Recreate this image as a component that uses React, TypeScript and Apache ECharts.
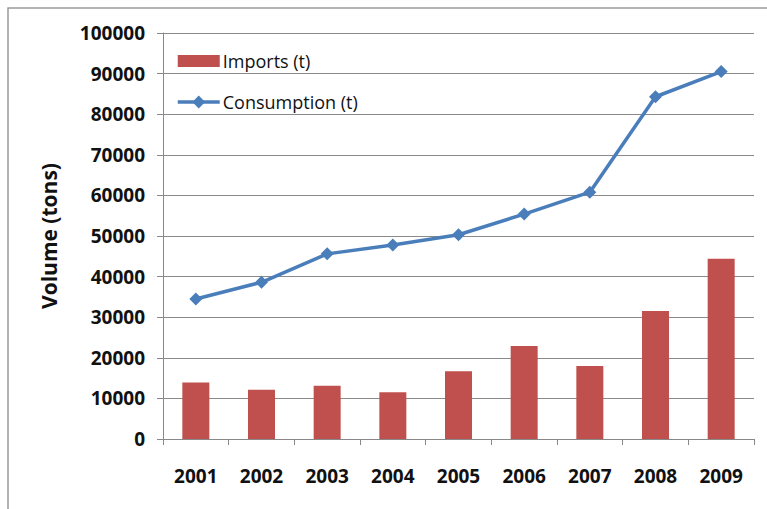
import React, { useEffect, useRef } from "react";
import * as echarts from "echarts";

const years = ["2001", "2002", "2003", "2004", "2005", "2006", "2007", "2008", "2009"];
const imports = [13900, 12100, 13100, 11500, 16700, 22900, 18000, 31500, 44400];
const consumption = [34500, 38600, 45600, 47800, 50300, 55400, 60800, 84300, 90500];

export default function App() {
  const ref = useRef<HTMLDivElement>(null);
  useEffect(() => {
    if (!ref.current) return;
    const chart = echarts.init(ref.current, null, { renderer: "svg" });
    const font = "'Open Sans', Lato, sans-serif";
    chart.setOption({
      animation: false,
      backgroundColor: "#ffffff",
      graphic: [
        {
          type: "rect",
          shape: { x: 8, y: 8, width: 800, height: 600 },
          style: { fill: "none", stroke: "#9a9a9a", lineWidth: 1.5 },
          z: 0,
        },
      ],
      grid: { left: 163, right: 13, top: 33, bottom: 70 },
      legend: {
        orient: "vertical",
        left: 176,
        top: 52,
        padding: 0,
        itemWidth: 42,
        itemHeight: 16,
        itemGap: 23,
        lineStyle: { width: 3.5 },
        textStyle: { fontFamily: font, fontSize: 18, color: "#111", padding: [0, 0, 0, -2] },
        data: [
          { name: "Imports (t)", icon: "path://M0,2H42V14H0Z" },
          { name: "Consumption (t)", lineStyle: { width: 3.5 } },
        ],
      },
      xAxis: {
        type: "category",
        data: years,
        boundaryGap: true,
        axisLine: { lineStyle: { color: "#888", width: 1 } },
        axisTick: { show: true, length: 6, lineStyle: { color: "#888" } },
        axisLabel: { margin: 27, fontFamily: font, fontWeight: "bold", fontSize: 19, color: "#111" },
      },
      yAxis: {
        type: "value",
        min: 0,
        max: 100000,
        interval: 10000,
        name: "Volume (tons)",
        nameLocation: "middle",
        nameGap: 104,
        nameTextStyle: { fontFamily: font, fontWeight: "bold", fontSize: 21, color: "#111" },
        axisLine: { show: true, lineStyle: { color: "#888", width: 1 } },
        axisTick: { show: true, length: 6, lineStyle: { color: "#888" } },
        splitLine: { lineStyle: { color: "#8a8a8a", width: 1.2 } },
        axisLabel: {
          margin: 18,
          fontFamily: font,
          fontWeight: "bold",
          fontSize: 19,
          color: "#111",
          formatter: (v: number) => String(v),
        },
      },
      series: [
        {
          name: "Imports (t)",
          type: "bar",
          data: imports,
          barWidth: 27,
          itemStyle: { color: "#C0504D" },
        },
        {
          name: "Consumption (t)",
          type: "line",
          data: consumption,
          symbol: "diamond",
          symbolSize: 13,
          lineStyle: { color: "#4A7EBB", width: 3.5 },
          itemStyle: { color: "#4A7EBB" },
        },
      ],
    });
    return () => chart.dispose();
  }, []);
  return <div ref={ref} style={{ position: "fixed", left: 0, top: 0, width: 767, height: 509 }} />;
}
